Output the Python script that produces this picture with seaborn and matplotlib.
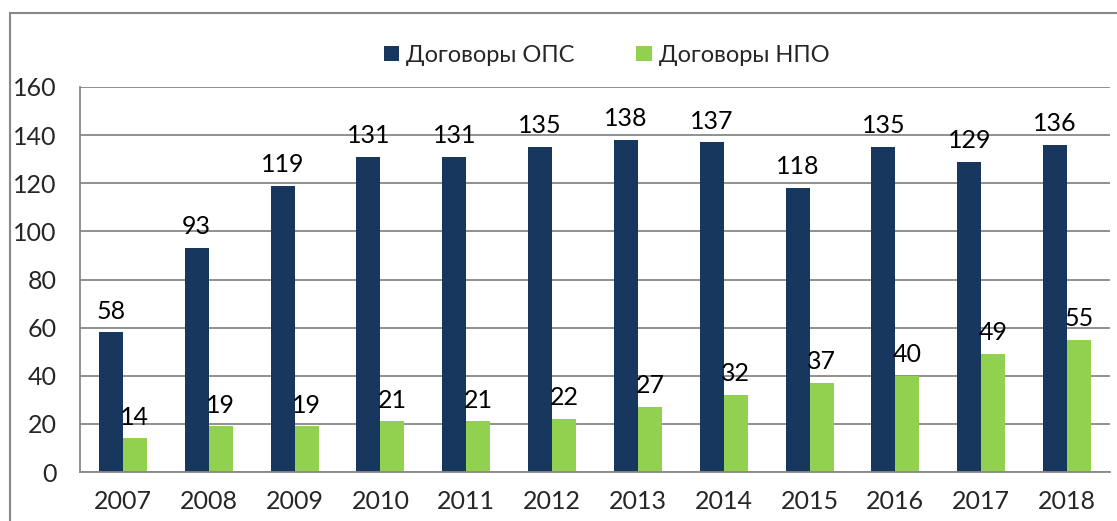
import pandas as pd
import seaborn as sns
import matplotlib.pyplot as plt
from matplotlib.patches import Rectangle
from matplotlib.ticker import FixedLocator

years = ['2007', '2008', '2009', '2010', '2011', '2012',
         '2013', '2014', '2015', '2016', '2017', '2018']
ops = [58, 93, 119, 131, 131, 135, 138, 137, 118, 135, 129, 136]
npo = [14, 19, 19, 21, 21, 22, 27, 32, 37, 40, 49, 55]
series = ['Договоры ОПС', 'Договоры НПО']
colors = ['#17375E', '#92D050']

df = pd.DataFrame({
    'year': years * 2,
    'value': ops + npo,
    'series': [series[0]] * len(years) + [series[1]] * len(years),
})

sns.set_style('white')
plt.rcParams['font.family'] = ['Lato', 'DejaVu Sans']
fs = 18

fig = plt.figure(figsize=(11.17, 5.21), dpi=100)
ax = fig.add_axes([80 / 1117, 1 - 472 / 521, 1030 / 1117, 385 / 521])

sns.barplot(data=df, x='year', y='value', hue='series', palette=colors,
            width=0.56, gap=0, saturation=1, ax=ax, edgecolor='none')

for c in ax.containers:
    ax.bar_label(c, padding=7, fontsize=fs, color='black')

ax.set_ylim(0, 160)
ax.set_yticks(range(0, 161, 20))
ax.set_xlim(-0.5, len(years) - 0.5)
ax.set_xlabel('')
ax.set_ylabel('')
ax.grid(axis='y', color='#888888', linewidth=1.3)
ax.set_axisbelow(True)

for s in ['top', 'right']:
    ax.spines[s].set_visible(False)
for s in ['left', 'bottom']:
    ax.spines[s].set_color('#888888')
    ax.spines[s].set_linewidth(1.3)

ax.tick_params(axis='y', which='major', length=6, color='#888888', width=1.3,
               labelsize=fs, pad=11)
ax.tick_params(axis='x', which='major', length=0, labelsize=fs, pad=13)
ax.xaxis.set_minor_locator(FixedLocator([i - 0.5 for i in range(len(years) + 1)]))
ax.tick_params(axis='x', which='minor', length=6, color='#888888', width=1.3)

ax.legend(loc='upper center', bbox_to_anchor=(0.543, 0.955),
          bbox_transform=fig.transFigure, ncol=2, frameon=False,
          fontsize=17, handlelength=0.65, handleheight=0.65,
          handletextpad=0.3, columnspacing=2.6)

fig.patches.append(Rectangle((10 / 1117, -0.1), 1.2, 1 - 13 / 521 + 0.1,
                             transform=fig.transFigure, fill=False,
                             edgecolor='#888888', linewidth=1.5))

fig.savefig('out.png', dpi=100)
